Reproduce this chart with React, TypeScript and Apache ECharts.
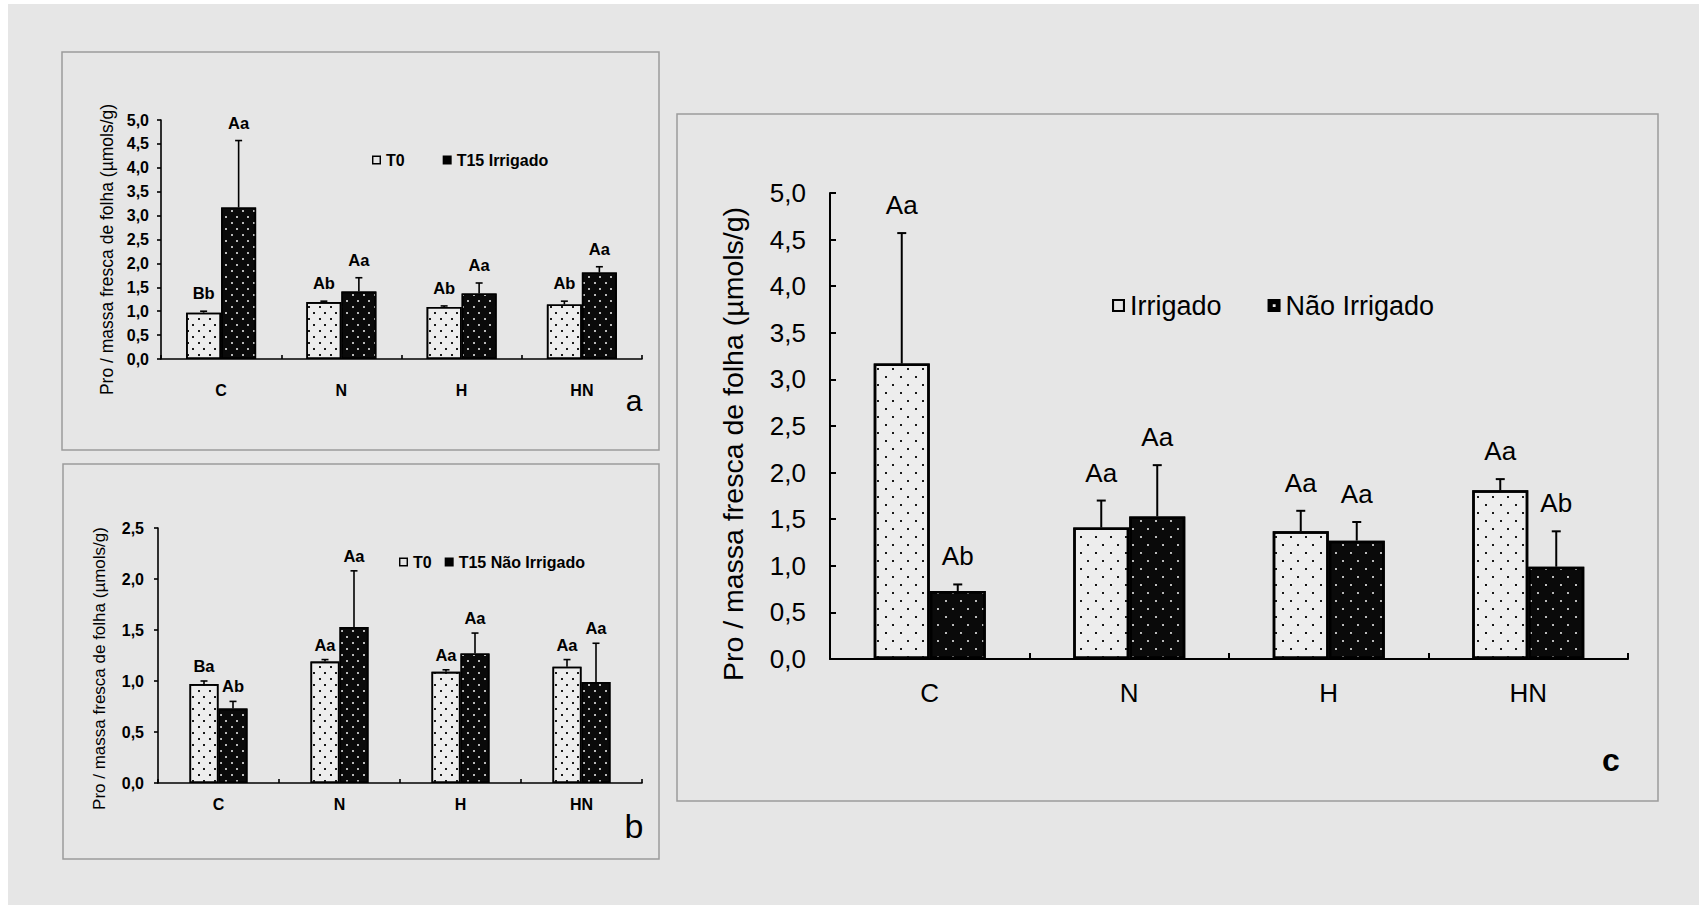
import React, { useEffect, useRef } from "react";
import * as echarts from "echarts";

// ---- data ----
const categories = ["C", "N", "H", "HN"];

const t0Values = [0.97, 1.19, 1.09, 1.14];
const t0ErrTop = [1.0, 1.21, 1.11, 1.21];

const irrigadoValues = [3.17, 1.41, 1.37, 1.81];
const irrigadoErrTop = [4.57, 1.7, 1.59, 1.93];

const naoIrrigadoValues = [0.73, 1.53, 1.27, 0.99];
const naoIrrigadoErrTop = [0.8, 2.08, 1.47, 1.37];

const lettersA_T0 = ["Bb", "Ab", "Ab", "Ab"];
const lettersA_T15 = ["Aa", "Aa", "Aa", "Aa"];
const lettersB_T0 = ["Ba", "Aa", "Aa", "Aa"];
const lettersB_T15 = ["Ab", "Aa", "Aa", "Aa"];
const lettersC_Irr = ["Aa", "Aa", "Aa", "Aa"];
const lettersC_Nao = ["Ab", "Aa", "Aa", "Ab"];

const yMaxAC = 5;
const yMaxB = 2.5;
const yStep = 0.5;

const yTitle = "Pro / massa fresca de folha (µmols/g)";

// ---- styling ----
const FONT = "'Liberation Sans', Arial, Helvetica, sans-serif";

const smallLight = {
  symbol: "rect",
  symbolSize: 1,
  color: "#1a1a1a",
  dashArrayX: [
    [1.3, 8.7],
    [0, 5, 1.3, 3.7],
  ],
  dashArrayY: [1.3, 3.7],
  rotation: 0,
};
const smallDark = { ...smallLight, color: "#b8b8b8" };
const bigLight = {
  symbol: "rect",
  symbolSize: 1,
  color: "#1a1a1a",
  dashArrayX: [
    [1.7, 12.3],
    [0, 7, 1.7, 5.3],
  ],
  dashArrayY: [1.7, 5.3],
  rotation: 0,
};
const bigDark = { ...bigLight, color: "#b8b8b8" };

type SeriesDef = {
  name: string;
  values: number[];
  err: number[];
  letters: string[];
  dark: boolean;
};

type Panel = {
  grid: { left: number; top: number; width: number; height: number };
  max: number;
  barWidth: number;
  font: number;
  weight: string;
  titleFont: number;
  titleShift: number;
  nameGap: number;
  yLabelMargin: number;
  xLabelMargin: number;
  tickLen: number;
  yTickInside: boolean;
  lineW: number;
  barBorder: number;
  capW: number;
  letterOff: number;
  letterFont: number;
  big: boolean;
  series: SeriesDef[];
};

const panels: Panel[] = [
  {
    grid: { left: 161, top: 120, width: 481, height: 239 },
    max: yMaxAC,
    barWidth: 35,
    font: 16,
    weight: "bold",
    titleFont: 17.5,
    titleShift: 10,
    nameGap: 45,
    yLabelMargin: 12,
    xLabelMargin: 23,
    tickLen: 4,
    yTickInside: false,
    lineW: 1.6,
    barBorder: 1.6,
    capW: 7,
    letterOff: 18,
    letterFont: 16.5,
    big: false,
    series: [
      { name: "T0", values: t0Values, err: t0ErrTop, letters: lettersA_T0, dark: false },
      { name: "T15 Irrigado", values: irrigadoValues, err: irrigadoErrTop, letters: lettersA_T15, dark: true },
    ],
  },
  {
    grid: { left: 158, top: 528, width: 484, height: 255 },
    max: yMaxB,
    barWidth: 29,
    font: 16,
    weight: "bold",
    titleFont: 17,
    titleShift: 13,
    nameGap: 50,
    yLabelMargin: 14,
    xLabelMargin: 13,
    tickLen: 4,
    yTickInside: false,
    lineW: 1.6,
    barBorder: 1.6,
    capW: 7,
    letterOff: 15,
    letterFont: 16.5,
    big: false,
    series: [
      { name: "T0", values: t0Values, err: t0ErrTop, letters: lettersB_T0, dark: false },
      { name: "T15 Não Irrigado", values: naoIrrigadoValues, err: naoIrrigadoErrTop, letters: lettersB_T15, dark: true },
    ],
  },
  {
    grid: { left: 830, top: 193, width: 798, height: 466 },
    max: yMaxAC,
    barWidth: 56,
    font: 26,
    weight: "normal",
    titleFont: 28.5,
    titleShift: 18,
    nameGap: 83,
    yLabelMargin: 24,
    xLabelMargin: 21,
    tickLen: 6,
    yTickInside: true,
    lineW: 2,
    barBorder: 2.5,
    capW: 9,
    letterOff: 28,
    letterFont: 26,
    big: true,
    series: [
      { name: "Irrigado", values: irrigadoValues, err: irrigadoErrTop, letters: lettersC_Irr, dark: false },
      { name: "Não Irrigado", values: naoIrrigadoValues, err: naoIrrigadoErrTop, letters: lettersC_Nao, dark: true },
    ],
  },
];

const hollowIcon = "path://M0,0H10V10H0ZM1.6,1.6V8.4H8.4V1.6Z";
const solidIcon = "path://M0,0H10V10H0Z";
const solidDotIcon = "path://M0,0H10V10H0ZM4,4V6.2H6.2V4Z";

function fmt(v: number) {
  return v.toFixed(1).replace(".", ",");
}

function buildOption() {
  const grid: any[] = [];
  const xAxis: any[] = [];
  const yAxis: any[] = [];
  const series: any[] = [];

  panels.forEach((p, pi) => {
    grid.push({ ...p.grid, containLabel: false });
    xAxis.push({
      type: "category",
      gridIndex: pi,
      data: categories,
      axisLine: { lineStyle: { color: "#000", width: p.lineW } },
      axisTick: { show: true, inside: true, length: p.tickLen, lineStyle: { color: "#000", width: p.lineW } },
      axisLabel: { color: "#000", fontSize: p.font, fontWeight: p.weight, fontFamily: FONT, margin: p.xLabelMargin },
      splitLine: { show: false },
    });
    yAxis.push({
      type: "value",
      gridIndex: pi,
      min: 0,
      max: p.max,
      interval: yStep,
      axisLine: { show: true, lineStyle: { color: "#000", width: p.lineW } },
      axisTick: {
        show: true,
        inside: p.yTickInside,
        length: p.tickLen,
        lineStyle: { color: "#000", width: p.lineW },
      },
      axisLabel: {
        color: "#000",
        fontSize: p.font,
        fontWeight: p.weight,
        fontFamily: FONT,
        margin: p.yLabelMargin,
        formatter: fmt,
      },
      splitLine: { show: false },
      name: yTitle,
      nameLocation: "middle",
      nameRotate: 90,
      nameGap: p.nameGap,
      nameTextStyle: {
        color: "#000",
        fontSize: p.titleFont,
        fontFamily: FONT,
        padding: [0, p.titleShift * 2, 0, 0],
      },
    });

    p.series.forEach((s) => {
      const decal = p.big ? (s.dark ? bigDark : bigLight) : s.dark ? smallDark : smallLight;
      series.push({
        type: "bar",
        name: s.name,
        xAxisIndex: pi,
        yAxisIndex: pi,
        barWidth: p.barWidth,
        barGap: "0%",
        data: s.values,
        itemStyle: {
          color: s.dark ? "#0a0a0a" : "#ededed",
          borderColor: "#000",
          borderWidth: p.barBorder,
          decal,
        },
        z: 2,
      });
    });
    p.series.forEach((s, si) => {
      const offset = (si === 0 ? -1 : 1) * (p.barWidth / 2);
      series.push({
        type: "custom",
        name: s.name + " erro",
        xAxisIndex: pi,
        yAxisIndex: pi,
        z: 5,
        data: categories.map((_, i) => [i, s.values[i], s.err[i]]),
        renderItem: (params: any, api: any) => {
          const i = params.dataIndex;
          const base = api.coord([i, s.values[i]]);
          const top = api.coord([i, s.err[i]]);
          const x = base[0] + offset;
          return {
            type: "group",
            children: [
              {
                type: "line",
                shape: { x1: x, y1: base[1], x2: x, y2: top[1] },
                style: { stroke: "#000", lineWidth: p.lineW },
              },
              {
                type: "line",
                shape: { x1: x - p.capW / 2, y1: top[1], x2: x + p.capW / 2, y2: top[1] },
                style: { stroke: "#000", lineWidth: p.lineW },
              },
              {
                type: "text",
                x,
                y: top[1] - p.letterOff,
                style: {
                  text: s.letters[i],
                  align: "center",
                  verticalAlign: "middle",
                  textAlign: "center",
                  textVerticalAlign: "middle",
                  fontSize: p.letterFont,
                  fontWeight: p.weight,
                  fontFamily: FONT,
                  fill: "#000",
                },
              },
            ],
          };
        },
      });
    });
  });

  const legItem = (name: string, icon: string) => ({
    name,
    icon,
    itemStyle: { color: "#000", borderWidth: 0, decal: "none" },
  });

  const legend = [
    {
      left: 372,
      top: 152,
      padding: 0,
      itemWidth: 9,
      itemHeight: 9,
      itemGap: 38,
      selectedMode: false,
      textStyle: { color: "#000", fontSize: 16, fontWeight: "bold", fontFamily: FONT },
      data: [legItem("T0", hollowIcon), legItem("T15 Irrigado", solidIcon)],
    },
    {
      left: 399,
      top: 554,
      padding: 0,
      itemWidth: 9,
      itemHeight: 9,
      itemGap: 13,
      selectedMode: false,
      textStyle: { color: "#000", fontSize: 16, fontWeight: "bold", fontFamily: FONT },
      data: [legItem("T0", hollowIcon), legItem("T15 Não Irrigado", solidIcon)],
    },
    {
      left: 1112,
      top: 292,
      padding: 0,
      itemWidth: 13,
      itemHeight: 13,
      itemGap: 46,
      selectedMode: false,
      textStyle: { color: "#000", fontSize: 27, fontFamily: FONT },
      data: [legItem("Irrigado", hollowIcon), legItem("Não Irrigado", solidDotIcon)],
    },
  ];

  const boxStyle = { fill: "none", stroke: "#9c9c9c", lineWidth: 1.5 };
  const graphic = [
    { type: "rect", z: -10, silent: true, shape: { x: 8, y: 4, width: 1691, height: 901 }, style: { fill: "#e6e6e6" } },
    { type: "rect", z: -5, silent: true, shape: { x: 62, y: 52, width: 597, height: 398 }, style: boxStyle },
    { type: "rect", z: -5, silent: true, shape: { x: 63, y: 464, width: 596, height: 395 }, style: boxStyle },
    { type: "rect", z: -5, silent: true, shape: { x: 677, y: 114, width: 981, height: 687 }, style: boxStyle },
    {
      type: "text",
      x: 634,
      y: 400,
      style: { text: "a", align: "center", verticalAlign: "middle", fontSize: 30, fontFamily: FONT, fill: "#000" },
    },
    {
      type: "text",
      x: 634,
      y: 826,
      style: { text: "b", align: "center", verticalAlign: "middle", fontSize: 34, fontFamily: FONT, fill: "#000" },
    },
    {
      type: "text",
      x: 1611,
      y: 760,
      style: {
        text: "c",
        align: "center",
        verticalAlign: "middle",
        fontSize: 32,
        fontWeight: "bold",
        fontFamily: FONT,
        fill: "#000",
      },
    },
  ];

  return {
    animation: false,
    backgroundColor: "#ffffff",
    textStyle: { fontFamily: FONT },
    grid,
    xAxis,
    yAxis,
    legend,
    series,
    graphic,
  };
}

export default function App() {
  const ref = useRef<HTMLDivElement>(null);
  useEffect(() => {
    if (!ref.current) return;
    const chart = echarts.init(ref.current, undefined, { renderer: "svg" });
    chart.setOption(buildOption() as any);
    return () => chart.dispose();
  }, []);
  return (
    <div
      ref={ref}
      style={{ position: "absolute", left: 0, top: 0, width: 1699, height: 905 }}
    />
  );
}
